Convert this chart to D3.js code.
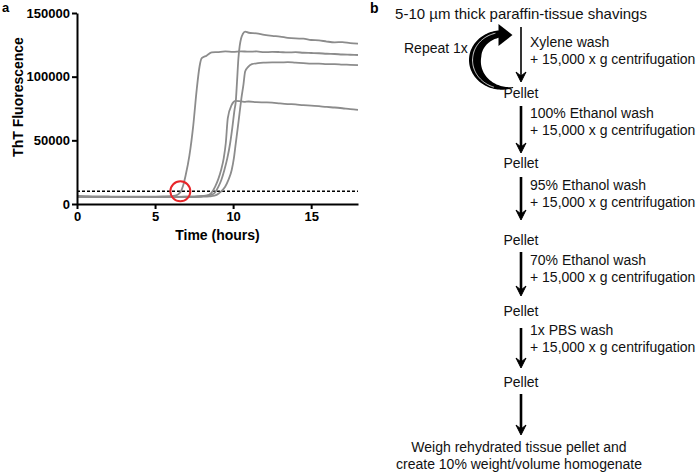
<!DOCTYPE html>
<html>
<head>
<meta charset="utf-8">
<script src="https://cdn.jsdelivr.net/npm/d3@7"></script>
<style>
  body { margin: 0; background: #fff; }
  svg { font-family: Arial, "Liberation Sans", sans-serif; }
</style>
</head>
<body>
<div id="figure"></div>
<script>
// ThT kinetic traces (hours, fluorescence)
const hoursA = [0,0.5,1,1.5,2,2.5,3,3.5,4,4.5,5,5.5,6,6.3,6.5,6.65,6.8,6.95,7.2,7.45,7.67,7.85,7.99,8.3,8.63,9,9.5,10,10.5,11,11.5,12,12.5,13,13.5,14,14.5,15,15.5,16,16.5,17,17.5,18];
const thtA   = [6300,6200,6000,6000,5900,5800,5800,5800,5700,5800,5800,5900,6100,6600,7800,9800,14500,22000,38000,62000,90000,108000,114500,116500,119000,119300,119800,119500,119900,119600,119800,119200,119500,119300,119000,119200,118800,118600,118400,118000,117800,117400,117200,117000];

const hoursB = [0,1,2,3,4,5,6,7,7.5,8,8.5,8.8,9.06,9.25,9.44,9.63,9.81,9.95,10.09,10.17,10.25,10.34,10.42,10.51,10.62,10.77,11,11.5,12,12.5,13,13.5,14,14.5,15,15.5,16,16.5,17,17.5,18];
const thtB   = [5800,5600,5500,5500,5500,5600,5500,5700,5800,6200,6800,8500,13600,19000,26700,36000,47700,60000,74000,80400,96000,114500,124000,130000,133500,135400,134500,134000,132800,132000,131500,130500,130000,129800,128800,128500,127600,127000,127200,126300,126000];

const hoursC = [0,1,2,3,4,5,6,7,8,8.5,8.8,9.1,9.49,9.7,9.91,10.05,10.17,10.3,10.4,10.53,10.66,10.77,10.95,11.2,11.6,12,12.5,13,13.5,14,14.5,15,15.5,16,16.5,17,17.5,18];
const thtC   = [5600,5500,5400,5500,5400,5500,5500,5500,5700,6000,6500,8500,13600,19000,26700,36000,47700,60000,70000,83000,93500,104000,107500,109800,110600,111000,111300,111200,111400,111000,110700,110200,110300,109800,109900,109500,109300,109000];

const hoursD = [0,1,2,3,4,5,6,7,7.8,8.3,8.6,8.85,9.05,9.23,9.4,9.53,9.66,9.91,10.02,10.13,10.4,10.7,11,11.5,12,12.5,13,13.5,14,14.5,15,15.5,16,16.5,17,17.5,18];
const thtD   = [5700,5600,5500,5500,5600,5500,5600,5700,6000,6500,8500,13600,19500,26700,36000,47700,67400,77800,80000,81000,80800,80200,80500,80000,79800,79600,79000,78500,78200,77600,77300,76800,76200,75800,75200,74500,74000];

const traces = [[hoursA, thtA], [hoursB, thtB], [hoursC, thtC], [hoursD, thtD]];

const xTicks = [0, 5, 10, 15];
const yTicks = [0, 50000, 100000, 150000];
const threshold = 10000;        // dashed threshold line
const lagPoint = [6.62, 10000]; // red circle

// flow chart text
const flowTop = "5-10 \u00b5m thick paraffin-tissue shavings";
const washSteps = ["Xylene wash", "100% Ethanol wash", "95% Ethanol wash", "70% Ethanol wash", "1x PBS wash"];
const spinLabel = "+ 15,000 x g centrifugation";
const pelletLabel = "Pellet";
const finalLines = ["Weigh rehydrated tissue pellet and", "create 10% weight/volume homogenate"];
const repeatLabel = "Repeat 1x";

const width = 697, height = 472;
const svg = d3.select("#figure").append("svg")
    .attr("width", width)
    .attr("height", height);

// ---------- panel a ----------
const plot = {left: 77, right: 358, top: 13, bottom: 204};

const xScale = d3.scaleLinear().domain([0, 18]).range([plot.left, plot.right]);
const yScale = d3.scaleLinear().domain([0, 150000]).range([plot.bottom, plot.top]);

// threshold
svg.append("line")
    .attr("x1", xScale(0)).attr("x2", xScale(18))
    .attr("y1", yScale(threshold)).attr("y2", yScale(threshold))
    .attr("stroke", "#000")
    .attr("stroke-width", 1.6)
    .attr("stroke-dasharray", "3,2");

const line = d3.line()
    .x(d => xScale(d[0]))
    .y(d => yScale(d[1]))
    .curve(d3.curveMonotoneX);

svg.append("g").selectAll("path")
    .data(traces)
    .enter().append("path")
    .attr("d", t => line(t[0].map((h, i) => [h, t[1][i]])))
    .attr("fill", "none")
    .attr("stroke", "#8c8c8c")
    .attr("stroke-width", 1.8);

// axes
const xAxis = svg.append("g")
    .attr("transform", `translate(0,${plot.bottom})`)
    .call(d3.axisBottom(xScale).tickValues(xTicks).tickSize(5).tickSizeOuter(0).tickPadding(3));

const yAxis = svg.append("g")
    .attr("transform", `translate(${plot.left},0)`)
    .call(d3.axisLeft(yScale).tickValues(yTicks).tickFormat(d3.format("d"))
        .tickSize(5).tickSizeOuter(0).tickPadding(2));

[xAxis, yAxis].forEach(ax => {
    ax.select(".domain").attr("stroke", "#000").attr("stroke-width", 2);
    ax.selectAll(".tick line").attr("stroke", "#000").attr("stroke-width", 2);
    ax.selectAll(".tick text")
        .attr("fill", "#000")
        .style("font-size", "13px")
        .style("font-weight", "bold")
        .style("font-family", "Arial, 'Liberation Sans', sans-serif");
});

// red circle at the lag point
svg.append("circle")
    .attr("cx", xScale(lagPoint[0]))
    .attr("cy", yScale(lagPoint[1]))
    .attr("r", 10)
    .attr("fill", "none")
    .attr("stroke", "#e8262a")
    .attr("stroke-width", 2);

// axis titles
svg.append("text")
    .attr("x", (plot.left + plot.right) / 2)
    .attr("y", 240)
    .attr("text-anchor", "middle")
    .style("font-size", "14px")
    .style("font-weight", "bold")
    .text("Time (hours)");

svg.append("text")
    .attr("transform", "rotate(-90)")
    .attr("x", -97)
    .attr("y", 18)
    .attr("dy", "0.35em")
    .attr("text-anchor", "middle")
    .style("font-size", "14px")
    .style("font-weight", "bold")
    .text("ThT Fluorescence");

svg.append("text")
    .attr("x", 2).attr("y", 12)
    .style("font-size", "13px")
    .style("font-weight", "bold")
    .text("a");

// ---------- panel b ----------
svg.append("text")
    .attr("x", 370).attr("y", 13)
    .style("font-size", "14px")
    .style("font-weight", "bold")
    .text("b");

const ax = 521;
const arrowTop = [27, 106, 177, 252, 328, 394];
const arrowTip = [82, 153, 220, 296, 368, 435];
const washY = [47, 118, 190, 265, 335];
const pelletY = [98, 168, 245, 316, 387];

const flow = svg.append("g").style("font-size", "14px").attr("fill", "#111");

flow.append("text")
    .attr("x", ax).attr("y", 19)
    .attr("text-anchor", "middle")
    .style("font-size", "15px")
    .text(flowTop);

arrowTop.forEach((y0, i) => {
    const tip = arrowTip[i];
    flow.append("line")
        .attr("x1", ax).attr("x2", ax)
        .attr("y1", y0).attr("y2", tip - 4)
        .attr("stroke", "#000")
        .attr("stroke-width", i === 0 ? 1.6 : 2.6);
    flow.append("path")
        .attr("d", `M${ax - 5},${tip - 10} L${ax},${tip} L${ax + 5},${tip - 10} L${ax},${tip - 6} Z`)
        .attr("fill", "#000")
        .attr("stroke", "#000")
        .attr("stroke-width", 1);
});

washSteps.forEach((s, i) => {
    flow.append("text").attr("x", 530).attr("y", washY[i]).text(s);
    flow.append("text").attr("x", 530).attr("y", washY[i] + 16.5).text(spinLabel);
});

pelletY.forEach(y => {
    flow.append("text")
        .attr("x", ax).attr("y", y)
        .attr("text-anchor", "middle")
        .text(pelletLabel);
});

finalLines.forEach((s, i) => {
    flow.append("text")
        .attr("x", 519).attr("y", 452 + i * 16.5)
        .attr("text-anchor", "middle")
        .text(s);
});

flow.append("text").attr("x", 404).attr("y", 53).text(repeatLabel);

// curved "repeat" arrow: a C opening to the right, thin at the bottom end,
// thickest on the left, arrow head at the top pointing right
const cx = 502, cy = 60, R = 33;
const a0 = 70, a1 = 265;
const rad = a => a * Math.PI / 180;
const thick = a => {
    if (a <= 190) return 1 + 11 * Math.sin(((a - a0) / (190 - a0)) * Math.PI / 2);
    return 12 - 4 * (a - 190) / (a1 - 190);
};
const pt = (a, r) => [cx + r * Math.cos(rad(a)), cy + r * 0.9 * Math.sin(rad(a))];
const outer = d3.range(a0, a1 + 0.1, 2.5).map(a => pt(a, R));
const inner = d3.range(a1, a0 - 0.1, -2.5).map(a => pt(a, R - thick(a)));
svg.append("path")
    .attr("d", d3.line()(outer.concat(inner)) + "Z")
    .attr("fill", "#000");

// arrow head at the top end
const hb = pt(a1, R - 4);
svg.append("path")
    .attr("d", `M${hb[0] - 1},${hb[1] - 10} L${hb[0] + 13},${hb[1] + 1} L${hb[0] - 1},${hb[1] + 12} Z`)
    .attr("fill", "#000");

// thin highlight inside the band
const mid = d3.range(a0 + 35, a1 - 5, 2.5).map(a => pt(a, R - thick(a) * 0.3));
svg.append("path")
    .attr("d", d3.line().curve(d3.curveBasis)(mid))
    .attr("fill", "none")
    .attr("stroke", "#fff")
    .attr("stroke-width", 0.8);
</script>
</body>
</html>
